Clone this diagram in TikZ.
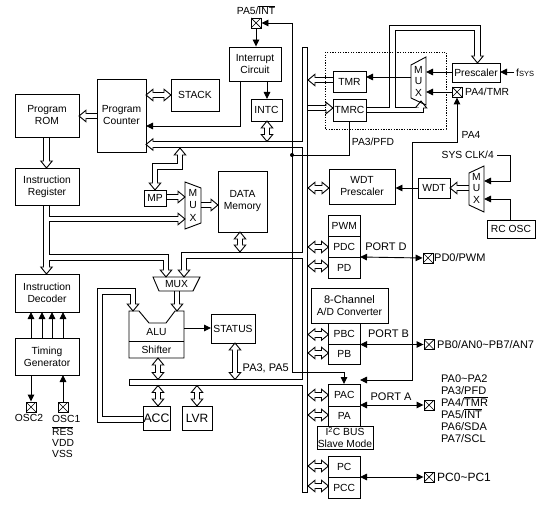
\documentclass[tikz,border=0pt]{standalone}
\usepackage{fontspec}
\setmainfont{Liberation Sans}
\usetikzlibrary{arrows.meta}
\newcommand\fs{\fontsize{10.3}{12}\selectfont}
\newcommand\fp{\fontsize{11}{12}\selectfont}
\tikzset{
  ln/.style={line width=0.9pt},
  box/.style={draw, line width=0.9pt, inner sep=0pt, align=center, font=\fs},
  txt/.style={inner sep=0pt, font=\fs},
  arr/.style={line width=0.9pt, -{Triangle[length=7pt,width=6.5pt]}},
  darr/.style={line width=0.9pt, {Triangle[length=7pt,width=6.5pt]}-{Triangle[length=7pt,width=6.5pt]}},
  busO/.style={line width=6.4pt, black, line cap=butt, line join=miter},
  busI/.style={line width=4.6pt, white, line cap=butt, line join=miter},
  hd/.style={fill=white, draw=black, line width=0.9pt, line join=miter},
  xbox/.style={draw, line width=0.9pt, minimum size=10pt, inner sep=0pt,
    path picture={\draw[line width=0.7pt] (path picture bounding box.south west)--(path picture bounding box.north east)
      (path picture bounding box.north west)--(path picture bounding box.south east);}},
}
% heads: tip at (#1,#2)
\newcommand\hR[2]{\draw[hd] ({#1-7},{#2-5.75})--(#1,#2)--({#1-7},{#2+5.75})--cycle;}
\newcommand\hL[2]{\draw[hd] ({#1+7},{#2-5.75})--(#1,#2)--({#1+7},{#2+5.75})--cycle;}
\newcommand\hU[2]{\draw[hd] ({#1-5.75},{#2+7})--(#1,#2)--({#1+5.75},{#2+7})--cycle;}
\newcommand\hD[2]{\draw[hd] ({#1-5.75},{#2-7})--(#1,#2)--({#1+5.75},{#2-7})--cycle;}
\newcommand\hollow[2]{\draw[busO] #1; #2 \draw[busI] #1;}
\newcommand\bx[6]{\node[box, minimum width={(#4)-(#2)}, minimum height={(#5)-(#3)}] (#1) at ({((#2)+(#4))/2},{((#3)+(#5))/2}) {#6};}
\begin{document}
\begin{tikzpicture}[x=1pt,y=-1pt]
\fill[white] (0,0) rectangle (541,505);
\useasboundingbox (0,0) rectangle (541,505);

% ---------- hollow buses ----------
\hollow{(305,47)--(305,492)
 (305,144.5)--(151.5,144.5)
 (305,255.5)--(184,255.5)--(184,271.5)
 (305,382.5)--(129,382.5)}{\hL{146}{144.5}\hD{184}{277}}
\draw[ln, line cap=rect] (302.25,47)--(307.75,47) (302.25,492)--(307.75,492) (129,379.75)--(129,385.25);

\hollow{(46.5,205)--(46.5,268.5) (46.5,219)--(179.5,219) (46.5,257.5)--(166,257.5)--(166,271.5)}{\hD{46.5}{274}\hR{185}{219}\hD{166}{277}}
\hollow{(366,110)--(421,110)--(421,106.5) (392.5,110)--(392.5,28)--(477.5,28)--(477.5,57.5)}{\hU{421}{101}\hD{477.5}{63}}
\hollow{(143,419.5)--(100,419.5)--(100,291.5)--(133,291.5)--(133,305.5)}{\hD{133}{311}}
\hollow{(177,291)--(177,305.5)}{\hD{177}{311}}
\hollow{(97,116)--(84.5,116)}{\hL{79}{116}}
\hollow{(46.5,137)--(46.5,162.5)}{\hD{46.5}{168}}
\hollow{(166,197)--(179.5,197)}{\hR{185}{197}}
\hollow{(201,205)--(212.5,205)}{\hR{218}{205}}
\hollow{(333,80)--(313.5,80)}{\hL{308}{80}}
\hollow{(308,108)--(327.5,108)}{\hR{333}{108}}
\hollow{(469,188)--(455.5,188)}{\hL{450}{188}}
% double headed
\hollow{(151.5,95)--(165.5,95)}{\hL{146}{95}\hR{171}{95}}
\hollow{(267,126.5)--(267,136)}{\hU{267}{121}\hD{267}{141.5}}
\hollow{(180,153.5)--(180,166.5)--(155,166.5)--(155,184.5)}{\hU{180}{148}\hD{155}{190}}
\hollow{(240,237.5)--(240,246.5)}{\hU{240}{232}\hD{240}{252}}
\hollow{(158,363.5)--(158,374)}{\hU{158}{358}\hD{158}{379.5}}
\hollow{(158,391)--(158,400.5)}{\hU{158}{385.5}\hD{158}{406}}
\hollow{(197,391)--(197,400.5)}{\hU{197}{385.5}\hD{197}{406}}
\hollow{(235,348.5)--(235,374)}{\hU{235}{343}\hD{235}{379.5}}
\foreach \yy/\xr in {188/329,247/328.5,266/328.5,334.5/328.5,353/328.5,395/328.5,415/328.5,466/328.5,486/328.5}{
  \hollow{(313.5,\yy)--({\xr-5.5},\yy)}{\hL{308}{\yy}\hR{\xr}{\yy}}
}

% ---------- boxes ----------
\bx{rom}{15}{94}{79}{137}{Program\\ROM}
\bx{pc}{97}{79}{146}{152}{Program\\Counter}
\bx{stack}{171}{79}{219}{111}{STACK}
\bx{intcirc}{229}{47}{281}{81}{Interrupt\\Circuit}
\bx{intc}{251}{99}{282}{121}{INTC}
\bx{ir}{15}{168}{79}{205}{Instruction\\Register}
\bx{id}{15}{274}{79}{312}{Instruction\\Decoder}
\bx{tg}{15}{338}{79}{375}{Timing\\Generator}
\bx{mp}{144}{190}{166}{206}{MP}
\bx{dm}{218}{171}{267}{232}{DATA\\Memory}
\bx{status}{211}{314}{255}{343}{STATUS}
\bx{acc}{143}{406}{170}{430}{\fontsize{12.3}{14}\selectfont ACC}
\bx{lvr}{182}{406}{212}{430}{\fontsize{12}{14}\selectfont LVR}
\bx{tmr}{333}{71}{366}{92}{TMR}
\bx{tmrc}{333}{99}{366}{121}{TMRC}
\bx{presc}{452}{63}{500}{82}{Prescaler}
\bx{wdtp}{329}{169}{395}{204}{WDT\\Prescaler}
\bx{wdt}{418}{178}{450}{198}{WDT}
\bx{rcosc}{487}{220}{535}{238}{RC OSC}
\bx{pwm}{328.5}{215}{360}{236}{PWM}
\bx{pdc}{328.5}{236}{360}{257}{PDC}
\bx{pd}{328.5}{257}{360}{278}{PD}
\bx{adc}{311}{288}{388}{323}{\fp 8-Channel\\A/D Converter}
\bx{pbc}{328.5}{323}{360}{344}{PBC}
\bx{pb}{328.5}{344}{360}{364}{PB}
\bx{pac}{328.5}{384}{360}{406}{PAC}
\bx{pa}{328.5}{406}{360}{426}{PA}
\bx{itc}{317}{426}{373}{449}{\fontsize{10.3}{10.5}\selectfont I\textsuperscript{2}C BUS\\Slave Mode}
\bx{pcb}{328.5}{456}{360}{477}{PC}
\bx{pcc}{328.5}{477}{360}{498}{PCC}

% dotted timer frame
\draw[line width=0.8pt, dash pattern=on 1.3pt off 1.3pt] (325,52) rectangle (446,129);

% ALU
\draw[ln] (129,311)--(139,311)--(149,323)--(166,323)--(175,311)--(184,311)--(184,358)--(129,358)--cycle;
\draw[ln] (129,341)--(184,341);
\node[txt] (alu) at (156.5,332) {ALU};
\node[txt] (shifter) at (156.5,350) {Shifter};

% MUXes
\draw[ln] (153,277)--(200,277)--(193,291)--(159,291)--cycle;
\node[txt] (muxb) at (176.5,284.5) {MUX};
\draw[ln] (185,182)--(201,188)--(201,223)--(185,229)--cycle;
\node[txt] (muxa1) at (193,193) {M};
\node[txt] (muxa2) at (193,205.5) {U};
\node[txt] (muxa3) at (193,218) {X};
\draw[ln] (411,65)--(426,57)--(426,105)--(411,98)--cycle;
\node[txt] (muxt1) at (418.5,69.5) {M};
\node[txt] (muxt2) at (418.5,81) {U};
\node[txt] (muxt3) at (418.5,92.5) {X};
\draw[ln] (469,173)--(484,166)--(484,212)--(469,205)--cycle;
\node[txt] (muxw1) at (476.5,176.5) {M};
\node[txt] (muxw2) at (476.5,188) {U};
\node[txt] (muxw3) at (476.5,199.5) {X};

% cross boxes
\node[xbox] (xpa5) at (256,23) {};
\node[xbox] (xpa4) at (457,92) {};
\node[xbox] (xpd) at (428,258) {};
\node[xbox] (xpb) at (429,344.5) {};
\node[xbox] (xpa) at (429,405) {};
\node[xbox] (xpc) at (429,477) {};
\node[xbox] (xosc2) at (31,407) {};
\node[xbox] (xosc1) at (63,407) {};

% thin connectors
\coordinate (dot) at (292,155);
\draw[arr] (292,23) -- (xpa5.east);
\draw[arr] (292,23) -- (292,372) -- (344,372) -- (344,384);
\fill (dot) circle (2);
\draw[ln] (tmrc.south -| 349,0) -- (349,155) -- (dot);
\draw[arr] (xpa5.south) -- (xpa5.south |- intcirc.north);
\draw[arr] (267,81) -- (267,99);
\draw[arr] (240,81) -- (240,126) -- (146,126);
\draw[arr] (411,77) -- (366,77);
\draw[arr] (presc.west |- 0,72) -- (426,72);
\draw[arr] (514,72) -- (500,72);
\draw[arr] (xpa4.west) -- (426,92);
\draw[darr] (360,380) -- (412,380) -- (412,142) -- (457,142) -- (xpa4.south);
\draw[arr] (497,155) -- (510,155) -- (510,181) -- (484,181);
\draw[arr] (510,220) -- (510,199) -- (484,199);
\draw[arr] (wdt.west) -- (wdtp.east |- wdt.west);
\draw[arr] (184,328) -- (211,328);
\foreach \x in {31,42,52,63} \draw[arr] (\x,338) -- (\x,312);
\draw[arr] (31,375) -- (xosc2.north);
\draw[arr] (xosc1.north) -- (63,375);
\draw[darr] (360,257) -- (xpd.west);
\draw[darr] (360,344.5) -- (xpb.west);
\draw[darr] (360,405) -- (xpa.west);
\draw[darr] (360,477) -- (xpc.west);

% labels
\node[txt] (lpa5) at (256,10) {PA5/$\overline{\mbox{INT}}$};
\node[txt] (lpa3) at (373,142) {PA3/PFD};
\node[txt] (lpa4) at (471,135) {PA4};
\node[txt, anchor=east] (lsys) at (494,155) {SYS CLK/4};
\node[txt, anchor=west] (lpa4t) at (465,92) {PA4/TMR};
\node[txt, anchor=west] (lfsys) at (516,73) {f{\fontsize{7.5}{8}\selectfont SYS}};
\node[txt, font=\fp] (lportd) at (386,247) {PORT D};
\node[txt, font=\fp] (lportb) at (388.5,334) {PORT B};
\node[txt, font=\fp] (lporta) at (391,397) {PORT A};
\node[txt, font=\fp, anchor=west] (lpd0) at (434,258) {PD0/PWM};
\node[txt, font=\fp, anchor=west] (lpb0) at (437,345) {PB0/AN0\textasciitilde PB7/AN7};
\node[txt, font=\fontsize{12}{13}\selectfont, anchor=west] (lpc0) at (437,477) {PC0\textasciitilde PC1};
\node[txt, font=\fp, anchor=east] (lpa35) at (289,368) {PA3, PA5};
\node[txt, font=\fp, anchor=base west] (l1) at (441,382) {PA0\textasciitilde PA2};
\node[txt, font=\fp, anchor=base west] (l2) at (441,394) {PA3/PFD};
\node[txt, font=\fp, anchor=base west] (l3) at (441,406) {PA4/$\overline{\mbox{TMR}}$};
\node[txt, font=\fp, anchor=base west] (l4) at (441,418) {PA5/$\overline{\mbox{INT}}$};
\node[txt, font=\fp, anchor=base west] (l5) at (441,430) {PA6/SDA};
\node[txt, font=\fp, anchor=base west] (l6) at (441,442) {PA7/SCL};
\node[txt] (losc2) at (29,418) {OSC2};
\node[txt, anchor=base west] (losc1) at (52,422) {OSC1};
\node[txt, anchor=base west] (lres) at (52,435.5) {$\overline{\mbox{RES}}$};
\node[txt, anchor=base west] (lvdd) at (52,446.5) {VDD};
\node[txt, anchor=base west] (lvss) at (52,457) {VSS};
\end{tikzpicture}
\end{document}
